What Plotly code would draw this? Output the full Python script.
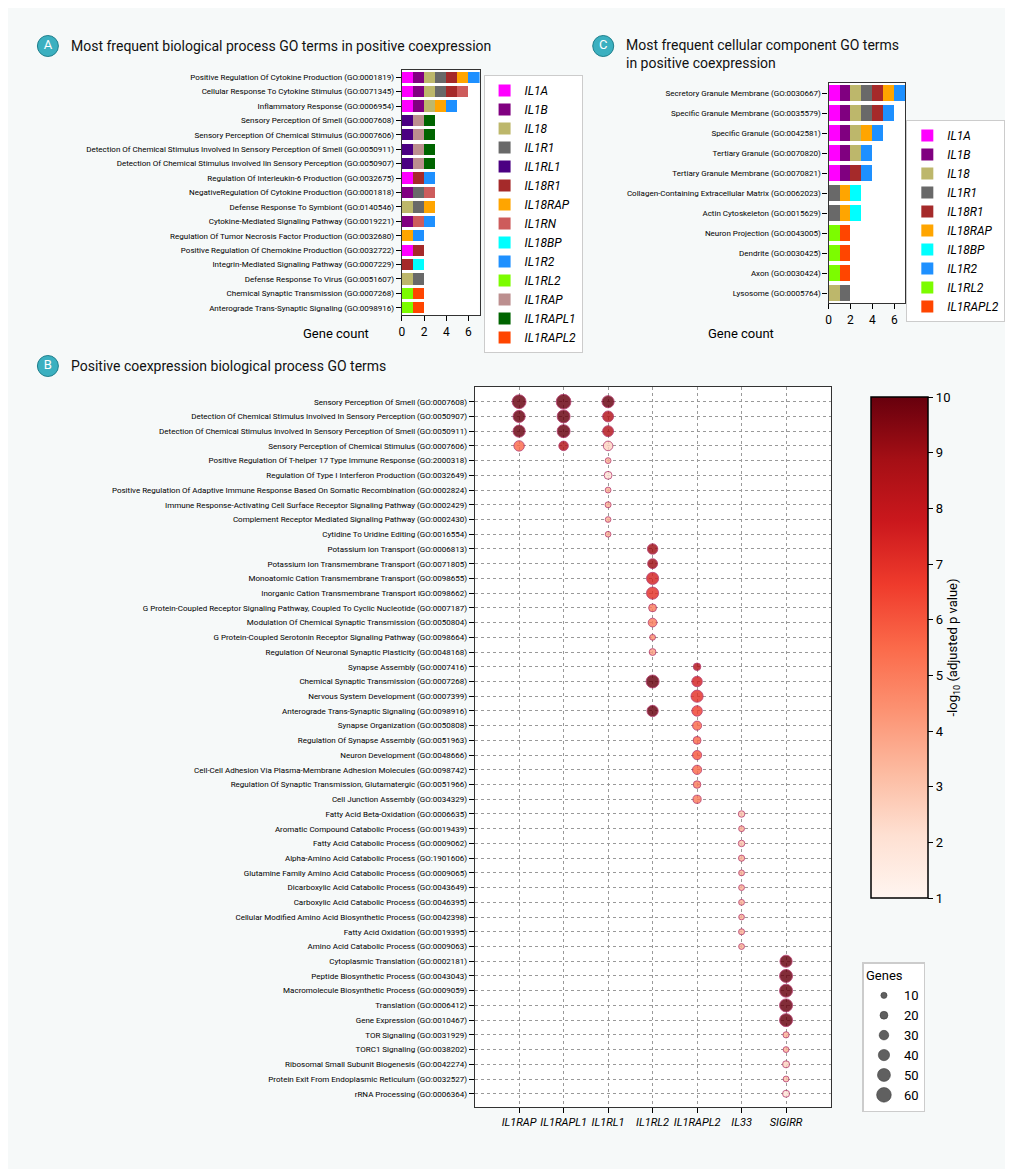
import plotly.graph_objects as go

FONT = "Roboto"
BG = "#f6f9f9"
W, H = 1005, 1161  # page has an 8px body margin


def fx(px):
    return (px - 8) / W


def fy(py):
    return 1 - (py - 8) / H


colors = {
    "IL1A": "#ff00ff", "IL1B": "#800080", "IL18": "#bdb76b", "IL1R1": "#696969",
    "IL1RL1": "#4b0082", "IL18R1": "#a52a2a", "IL18RAP": "#ffa500", "IL1RN": "#cd5c5c",
    "IL18BP": "#00ffff", "IL1R2": "#1e90ff", "IL1RL2": "#7cfc00", "IL1RAP": "#bc8f8f",
    "IL1RAPL1": "#006400", "IL1RAPL2": "#ff4500",
}

# panel A: biological process terms -> genes
bpTerms = {
    "Positive Regulation Of Cytokine Production (GO:0001819)": ["IL1A", "IL1B", "IL18", "IL1R1", "IL18R1", "IL18RAP", "IL1R2"],
    "Cellular Response To Cytokine Stimulus (GO:0071345)": ["IL1A", "IL1B", "IL18", "IL1R1", "IL18R1", "IL1RN"],
    "Inflammatory Response (GO:0006954)": ["IL1A", "IL1B", "IL18", "IL18RAP", "IL1R2"],
    "Sensory Perception Of Smell (GO:0007608)": ["IL1RL1", "IL1RAP", "IL1RAPL1"],
    "Sensory Perception Of Chemical Stimulus (GO:0007606)": ["IL1RL1", "IL1RAP", "IL1RAPL1"],
    "Detection Of Chemical Stimulus Involved In Sensory Perception Of Smell (GO:0050911)": ["IL1RL1", "IL1RAP", "IL1RAPL1"],
    "Detection Of Chemical Stimulus involved Iin Sensory Perception (GO:0050907)": ["IL1RL1", "IL1RAP", "IL1RAPL1"],
    "Regulation Of Interleukin-6 Production (GO:0032675)": ["IL1A", "IL18R1", "IL1R2"],
    "NegativeRegulation Of Cytokine Production (GO:0001818)": ["IL1B", "IL1R1", "IL1RN"],
    "Defense Response To Symbiont (GO:0140546)": ["IL18", "IL1R1", "IL18RAP"],
    "Cytokine-Mediated Signaling Pathway (GO:0019221)": ["IL1B", "IL1RN", "IL1R2"],
    "Regulation Of Tumor Necrosis Factor Production (GO:0032680)": ["IL18RAP", "IL1R2"],
    "Positive Regulation Of Chemokine Production (GO:0032722)": ["IL1A", "IL18R1"],
    "Integrin-Mediated Signaling Pathway (GO:0007229)": ["IL18R1", "IL18BP"],
    "Defense Response To Virus (GO:0051607)": ["IL18", "IL1R1"],
    "Chemical Synaptic Transmission (GO:0007268)": ["IL1RL2", "IL1RAPL2"],
    "Anterograde Trans-Synaptic Signaling (GO:0098916)": ["IL1RL2", "IL1RAPL2"],
}

# panel C: cellular component terms -> genes
ccTerms = {
    "Secretory Granule Membrane (GO:0030667)": ["IL1A", "IL1B", "IL18", "IL1R1", "IL18R1", "IL18RAP", "IL1R2"],
    "Specific Granule Membrane (GO:0035579)": ["IL1A", "IL1B", "IL18", "IL1R1", "IL18R1", "IL1R2"],
    "Specific Granule (GO:0042581)": ["IL1A", "IL1B", "IL18", "IL18RAP", "IL1R2"],
    "Tertiary Granule (GO:0070820)": ["IL1A", "IL1B", "IL18", "IL1R2"],
    "Tertiary Granule Membrane (GO:0070821)": ["IL1A", "IL1B", "IL18R1", "IL1R2"],
    "Collagen-Containing Extracellular Matrix (GO:0062023)": ["IL1R1", "IL18RAP", "IL18BP"],
    "Actin Cytoskeleton (GO:0015629)": ["IL1R1", "IL18RAP", "IL18BP"],
    "Neuron Projection (GO:0043005)": ["IL1RL2", "IL1RAPL2"],
    "Dendrite (GO:0030425)": ["IL1RL2", "IL1RAPL2"],
    "Axon (GO:0030424)": ["IL1RL2", "IL1RAPL2"],
    "Lysosome (GO:0005764)": ["IL18", "IL1R1"],
}

# panel B: (term, gene, gene count, -log10 padj)
dots = [
    ("Sensory Perception Of Smell (GO:0007608)", "IL1RAP", 55, 10), ("Sensory Perception Of Smell (GO:0007608)", "IL1RAPL1", 60, 10), ("Sensory Perception Of Smell (GO:0007608)", "IL1RL1", 45, 10),
    ("Detection Of Chemical Stimulus Involved In Sensory Perception (GO:0050907)", "IL1RAP", 45, 10), ("Detection Of Chemical Stimulus Involved In Sensory Perception (GO:0050907)", "IL1RAPL1", 50, 10), ("Detection Of Chemical Stimulus Involved In Sensory Perception (GO:0050907)", "IL1RL1", 38, 8.5),
    ("Detection Of Chemical Stimulus Involved In Sensory Perception Of Smell (GO:0050911)", "IL1RAP", 45, 10), ("Detection Of Chemical Stimulus Involved In Sensory Perception Of Smell (GO:0050911)", "IL1RAPL1", 50, 10), ("Detection Of Chemical Stimulus Involved In Sensory Perception Of Smell (GO:0050911)", "IL1RL1", 38, 8.5),
    ("Sensory Perception of Chemical Stimulus (GO:0007606)", "IL1RAP", 35, 5.5), ("Sensory Perception of Chemical Stimulus (GO:0007606)", "IL1RAPL1", 30, 8.5), ("Sensory Perception of Chemical Stimulus (GO:0007606)", "IL1RL1", 30, 2.5),
    ("Positive Regulation Of T-helper 17 Type Immune Response (GO:2000318)", "IL1RL1", 8, 3.5),
    ("Regulation Of Type I Interferon Production (GO:0032649)", "IL1RL1", 20, 2),
    ("Positive Regulation Of Adaptive Immune Response Based On Somatic Recombination (GO:0002824)", "IL1RL1", 8, 3.5),
    ("Immune Response-Activating Cell Surface Receptor Signaling Pathway (GO:0002429)", "IL1RL1", 9, 3.5),
    ("Complement Receptor Mediated Signaling Pathway (GO:0002430)", "IL1RL1", 7, 3.5),
    ("Cytidine To Uridine Editing (GO:0016554)", "IL1RL1", 7, 3.5),
    ("Potassium Ion Transport (GO:0006813)", "IL1RL2", 35, 9),
    ("Potassium Ion Transmembrane Transport (GO:0071805)", "IL1RL2", 32, 9),
    ("Monoatomic Cation Transmembrane Transport (GO:0098655)", "IL1RL2", 45, 7.5),
    ("Inorganic Cation Transmembrane Transport iGO:0098662)", "IL1RL2", 45, 7),
    ("G Protein-Coupled Receptor Signaling Pathway, Coupled To Cyclic Nucleotide (GO:0007187)", "IL1RL2", 20, 5),
    ("Modulation Of Chemical Synaptic Transmission (GO:0050804)", "IL1RL2", 25, 5),
    ("G Protein-Coupled Serotonin Receptor Signaling Pathway (GO:0098664)", "IL1RL2", 8, 4.5),
    ("Regulation Of Neuronal Synaptic Plasticity (GO:0048168)", "IL1RL2", 14, 4),
    ("Synapse Assembly (GO:0007416)", "IL1RAPL2", 18, 8.5),
    ("Chemical Synaptic Transmission (GO:0007268)", "IL1RL2", 50, 10), ("Chemical Synaptic Transmission (GO:0007268)", "IL1RAPL2", 35, 7.5),
    ("Nervous System Development (GO:0007399)", "IL1RAPL2", 45, 7),
    ("Anterograde Trans-Synaptic Signaling (GO:0098916)", "IL1RL2", 40, 10), ("Anterograde Trans-Synaptic Signaling (GO:0098916)", "IL1RAPL2", 35, 6.5),
    ("Synapse Organization (GO:0050808)", "IL1RAPL2", 27, 5.5),
    ("Regulation Of Synapse Assembly (GO:0051963)", "IL1RAPL2", 20, 5.5),
    ("Neuron Development (GO:0048666)", "IL1RAPL2", 28, 6),
    ("Cell-Cell Adhesion Via Plasma-Membrane Adhesion Molecules (GO:0098742)", "IL1RAPL2", 28, 5.5),
    ("Regulation Of Synaptic Transmission, Glutamatergic (GO:0051966)", "IL1RAPL2", 18, 5),
    ("Cell Junction Assembly (GO:0034329)", "IL1RAPL2", 22, 5),
    ("Fatty Acid Beta-Oxidation (GO:0006635)", "IL33", 12, 3),
    ("Aromatic Compound Catabolic Process (GO:0019439)", "IL33", 8, 3.5),
    ("Fatty Acid Catabolic Process (GO:0009062)", "IL33", 12, 3),
    ("Alpha-Amino Acid Catabolic Process (GO:1901606)", "IL33", 10, 3.5),
    ("Glutamine Family Amino Acid Catabolic Process (GO:0009065)", "IL33", 8, 3.5),
    ("Dicarboxylic Acid Catabolic Process (GO:0043649)", "IL33", 8, 3.5),
    ("Carboxylic Acid Catabolic Process (GO:0046395)", "IL33", 8, 3.5),
    ("Cellular Modified Amino Acid Biosynthetic Process (GO:0042398)", "IL33", 7, 3.5),
    ("Fatty Acid Oxidation (GO:0019395)", "IL33", 9, 3.5),
    ("Amino Acid Catabolic Process (GO:0009063)", "IL33", 8, 3.5),
    ("Cytoplasmic Translation (GO:0002181)", "SIGIRR", 45, 10),
    ("Peptide Biosynthetic Process (GO:0043043)", "SIGIRR", 50, 10),
    ("Macromolecule Biosynthetic Process (GO:0009059)", "SIGIRR", 50, 10),
    ("Translation (GO:0006412)", "SIGIRR", 50, 10),
    ("Gene Expression (GO:0010467)", "SIGIRR", 50, 10),
    ("TOR Signaling (GO:0031929)", "SIGIRR", 10, 3.5),
    ("TORC1 Signaling (GO:0038202)", "SIGIRR", 8, 3.5),
    ("Ribosomal Small Subunit Biogenesis (GO:0042274)", "SIGIRR", 15, 2.5),
    ("Protein Exit From Endoplasmic Reticulum (GO:0032527)", "SIGIRR", 8, 3),
    ("rRNA Processing (GO:0006364)", "SIGIRR", 15, 2),
]
dotGenes = ["IL1RAP", "IL1RAPL1", "IL1RL1", "IL1RL2", "IL1RAPL2", "IL33", "SIGIRR"]
termOrder = list(dict.fromkeys(d[0] for d in dots))


def diam(n):
    return 4.5 + 0.17 * n


fig = go.Figure()

for gene, col in colors.items():
    ys = [t for t, g in bpTerms.items() if gene in g]
    fig.add_trace(go.Bar(x=[1] * len(ys), y=ys, orientation="h", name="<i>%s</i>" % gene,
                         marker=dict(color=col, line_width=0), legend="legend",
                         xaxis="x", yaxis="y"))

ccGenes = ["IL1A", "IL1B", "IL18", "IL1R1", "IL18R1", "IL18RAP", "IL18BP", "IL1R2", "IL1RL2", "IL1RAPL2"]
for gene in ccGenes:
    ys = [t for t, g in ccTerms.items() if gene in g]
    fig.add_trace(go.Bar(x=[1] * len(ys), y=ys, orientation="h", name="<i>%s</i>" % gene,
                         marker=dict(color=colors[gene], line_width=0), legend="legend2",
                         xaxis="x2", yaxis="y2"))

fig.add_trace(go.Scatter(
    x=[d[1] for d in dots], y=[d[0] for d in dots], mode="markers", showlegend=False,
    xaxis="x3", yaxis="y3",
    marker=dict(size=[diam(d[2]) for d in dots], sizemode="diameter",
                color=[d[3] for d in dots], colorscale="Reds", cmin=1, cmax=10, opacity=0.82,
                line=dict(color="rgba(170,30,90,0.85)", width=1),
                colorbar=dict(x=fx(861), xanchor="left", y=fy(387), yanchor="top",
                              len=(908 - 387) / H, lenmode="fraction", thickness=57,
                              outlinecolor="black", outlinewidth=1.5,
                              ticks="outside", ticklen=5, tickcolor="black",
                              tickfont=dict(size=13, color="black", family=FONT),
                              title=dict(text="-log<sub>10</sub> (adjusted p value)", side="right",
                                         font=dict(size=13, color="black", family=FONT)))),
))

for n in [10, 20, 30, 40, 50, 60]:
    fig.add_trace(go.Scatter(x=[None], y=[None], mode="markers", name=str(n), legend="legend3",
                             xaxis="x3", yaxis="y3",
                             marker=dict(size=diam(n), color="#606060", line=dict(color="#333", width=0.5))))

# panel letter badges, on an overlay axis in page pixels
badges = {"A": (45, 46), "B": (45, 366), "C": (602, 46)}
fig.add_trace(go.Scatter(
    x=[p[0] for p in badges.values()], y=[p[1] for p in badges.values()], text=list(badges),
    mode="markers+text", textposition="middle center", showlegend=False, hoverinfo="skip",
    textfont=dict(size=13, color="white", family=FONT), xaxis="x4", yaxis="y4",
    marker=dict(size=21, color="#3bb0c0", line=dict(color="#1f7f8c", width=1)),
))

# white plot areas (plot_bgcolor is transparent so the overlay axis hides nothing)
for ax in ["", "2", "3"]:
    fig.add_shape(type="rect", xref="x%s domain" % ax, yref="y%s domain" % ax, x0=0, x1=1, y0=0, y1=1,
                  fillcolor="white", line_width=0, layer="below")

tickfontS = dict(size=8, color="black", family=FONT)
axbox = dict(showline=True, linecolor="#333", linewidth=1.2, mirror=True, ticks="outside",
             tickcolor="black", showgrid=False, zeroline=False)
gridax = dict(showline=True, linecolor="#333", mirror=True, ticks="outside", tickcolor="black",
              showgrid=True, gridcolor="#999", griddash="dot", gridwidth=0.8, zeroline=False)
hidden = dict(visible=False, showgrid=False, zeroline=False, domain=[0, 1])

fig.update_layout(
    width=W, height=H, margin=dict(l=0, r=0, t=0, b=0),
    paper_bgcolor=BG, plot_bgcolor="rgba(0,0,0,0)", barmode="stack", bargap=0.22,
    font=dict(family=FONT, color="black"),
    xaxis=dict(domain=[fx(400), fx(478)], range=[0, 7], dtick=2, tickfont=dict(size=12), anchor="y", **axbox),
    yaxis=dict(domain=[fy(315), fy(70)], categoryorder="array", categoryarray=list(bpTerms),
               autorange="reversed", tickfont=tickfontS, anchor="x", **axbox),
    xaxis2=dict(domain=[fx(828), fx(905)], range=[0, 7], dtick=2, tickfont=dict(size=12), anchor="y2", **axbox),
    yaxis2=dict(domain=[fy(303), fy(83)], categoryorder="array", categoryarray=list(ccTerms),
                autorange="reversed", tickfont=tickfontS, anchor="x2", **axbox),
    xaxis3=dict(domain=[fx(473), fx(830)], categoryorder="array", categoryarray=dotGenes, range=[-1, 7],
                tickvals=dotGenes, ticktext=["<i>%s</i>" % g for g in dotGenes],
                tickfont=dict(size=11, family=FONT), anchor="y3", **gridax),
    yaxis3=dict(domain=[fy(1107), fy(387)], categoryorder="array", categoryarray=termOrder,
                range=[len(termOrder) - 0.1, -1.0], tickfont=tickfontS, anchor="x3", **gridax),
    xaxis4=dict(range=[8, 8 + W], anchor="y4", **hidden),
    yaxis4=dict(range=[8 + H, 8], anchor="x4", **hidden),
    legend=dict(x=fx(482), y=fy(75), xanchor="left", yanchor="top", bgcolor="white", traceorder="normal",
                bordercolor="#ccc", borderwidth=1, font=dict(size=12), tracegroupgap=0),
    legend2=dict(x=fx(906), y=fy(120), xanchor="left", yanchor="top", bgcolor="white", traceorder="normal",
                 bordercolor="#ccc", borderwidth=1, font=dict(size=12), tracegroupgap=0),
    legend3=dict(x=fx(862), y=fy(962), xanchor="left", yanchor="top", bgcolor="white",
                 bordercolor="#ccc", borderwidth=1.5, font=dict(size=13), itemsizing="trace",
                 title=dict(text="Genes", font=dict(size=13))),
)

titles = [
    (66, 46, "Most frequent biological process GO terms in positive coexpression"),
    (66, 366, "Positive coexpression biological process GO terms"),
    (623, 54, "Most frequent cellular component GO terms<br>in positive coexpression"),
]
for tx, ty, t in titles:
    fig.add_annotation(x=fx(tx), y=fy(ty), xref="paper", yref="paper", text=t, align="left",
                       xanchor="left", yanchor="middle", showarrow=False, font=dict(size=14, color="#111"))

for gx, gy in [(299, 324), (775, 324)]:
    fig.add_annotation(x=fx(gx), y=fy(gy), xref="paper", yref="paper", text="Gene count",
                       showarrow=False, font=dict(size=13))

fig.write_html("out.html")
